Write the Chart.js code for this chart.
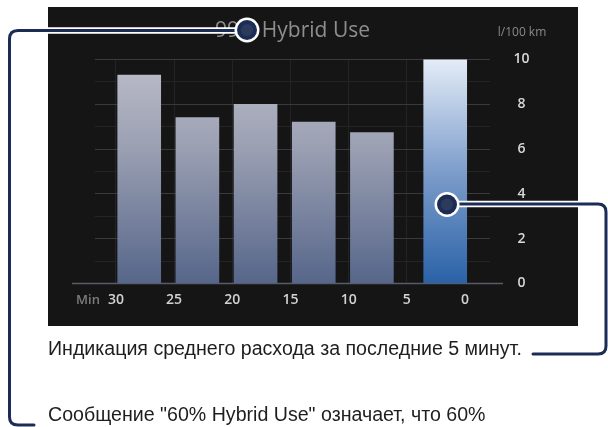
<!DOCTYPE html>
<html>
<head>
<meta charset="utf-8">
<script src="https://cdn.jsdelivr.net/npm/chart.js@4.4.1/dist/chart.umd.min.js"></script>
<style>
  html, body { margin: 0; padding: 0; background: #fff; }
  #page { position: relative; width: 608px; height: 427px; overflow: hidden; }
  #panel { position: absolute; left: 48px; top: 7px; width: 530px; height: 319px; background: #151515; }
  #chart { position: absolute; left: 0; top: 0; }
  #callouts { position: absolute; left: 0; top: 0; }
  .note { position: absolute; left: 48px; font: 19.6px "Liberation Sans", Arial, sans-serif; line-height: 19px; color: #1e1e1e; white-space: nowrap; }
</style>
</head>
<body>
<div id="page">
  <div id="panel"></div>
  <canvas id="chart" width="608" height="427"></canvas>
  <svg id="callouts" width="608" height="427">
    <g fill="none" stroke-linecap="round" stroke-linejoin="round">
      <path d="M 240 30.5 H 18 Q 9.5 30.5 9.5 39 V 417 Q 9.5 425 18 425 H 34" stroke="#fff" stroke-width="6.5"/>
      <path d="M 240 30.5 H 18 Q 9.5 30.5 9.5 39 V 417 Q 9.5 425 18 425 H 34" stroke="#1b2c55" stroke-width="3"/>
      <path d="M 452 204 H 598 Q 606 204 606 212 V 346 Q 606 354 598 354 H 533" stroke="#fff" stroke-width="6.5"/>
      <path d="M 452 204 H 598 Q 606 204 606 212 V 346 Q 606 354 598 354 H 533" stroke="#1b2c55" stroke-width="3"/>
    </g>
    <g>
      <circle cx="247" cy="30" r="12.5" fill="#fff"/>
      <circle cx="247" cy="30" r="10" fill="#1b2c55"/>
      <circle cx="247" cy="30" r="6" fill="#2c3a5c"/>
      <circle cx="447" cy="204.5" r="12.5" fill="#fff"/>
      <circle cx="447" cy="204.5" r="10" fill="#1b2c55"/>
      <circle cx="447" cy="204.5" r="6" fill="#2c3a5c"/>
    </g>
  </svg>
  <div class="note" style="top: 339px;">Индикация среднего расхода за последние 5 минут.</div>
  <div class="note" style="top: 405px;">Сообщение "60% Hybrid Use" означает, что 60%</div>
</div>
<script>
// данные графика
const barMinutes = [28, 23, 18, 13, 8, 1.7];          // положение столбца, минут назад
const consumption = [9.3, 7.4, 8.0, 7.2, 6.73, 10];    // л/100 км
const minuteTicks = [30, 25, 20, 15, 10, 5, 0];
const consumptionTicks = [0, 2, 4, 6, 8, 10];
const titleText = '99% Hybrid Use';
const unitText = 'l/100 km';
const minText = 'Min';

const CURRENT_INDEX = consumption.length - 1;

// градиенты столбцов по высоте области графика
function barFill(ctx) {
    const chart = ctx.chart;
    const area = chart.chartArea;
    const isCurrent = ctx.dataIndex === CURRENT_INDEX;
    if (!area) return isCurrent ? '#5d87c0' : '#8a90a6';
    const g = chart.ctx.createLinearGradient(0, area.bottom, 0, area.top);
    if (isCurrent) {
        g.addColorStop(0, '#2a62a7');
        g.addColorStop(0.5, '#7d9dcb');
        g.addColorStop(1, '#e4ecf7');
    } else {
        g.addColorStop(0, '#56668a');
        g.addColorStop(0.6, '#9a9fb2');
        g.addColorStop(1, '#bcbdc8');
    }
    return g;
}

// подписи "l/100 km", "Min" и нулевая линия
const extrasPlugin = {
    id: 'extras',
    beforeDatasetsDraw(chart) {
        const { ctx, scales: { x, y } } = chart;
        const y0 = y.getPixelForValue(0);
        ctx.save();
        ctx.strokeStyle = '#575c68';
        ctx.lineWidth = 1.5;
        ctx.beginPath();
        ctx.moveTo(x.left - 23, y0);
        ctx.lineTo(x.right + 13, y0);
        ctx.stroke();
        ctx.restore();
    },
    afterDraw(chart) {
        const { ctx, scales: { x, y } } = chart;
        ctx.save();
        ctx.fillStyle = '#8a8a8a';
        ctx.textAlign = 'center';
        ctx.textBaseline = 'middle';
        ctx.font = '12px "Open Sans"';
        ctx.fillText(unitText, y.left + 32, 33);
        ctx.fillStyle = '#7c7c7c';
        ctx.font = '600 13px "Open Sans"';
        ctx.textAlign = 'right';
        ctx.fillText(minText, x.getPixelForValue(30) - 16, 300);
        ctx.restore();
    }
};

new Chart(document.getElementById('chart'), {
    type: 'bar',
    data: {
        datasets: [{
            data: barMinutes.map((m, i) => ({ x: m, y: consumption[i] })),
            backgroundColor: barFill,
            borderWidth: 0,
            barThickness: 43
        }]
    },
    options: {
        responsive: false,
        animation: false,
        layout: { padding: { left: 95, right: 58, top: 7, bottom: 113.5 } },
        plugins: {
            legend: { display: false },
            tooltip: { enabled: false },
            title: {
                display: true,
                text: titleText,
                fullSize: false,
                color: '#8e8e8e',
                font: { family: 'Open Sans', size: 21, weight: 'normal' },
                padding: { top: 11.4, bottom: 15.8 }
            }
        },
        scales: {
            x: {
                type: 'linear',
                reverse: true,
                offset: false,
                min: -2.15,
                max: 31.8,
                afterBuildTicks: s => { s.ticks = minuteTicks.map(v => ({ value: v })); },
                afterFit: s => { s.height = 30; },
                grid: { color: '#222325', drawTicks: false, offset: false },
                border: { display: false },
                ticks: {
                    color: '#d2d2d2',
                    font: { family: 'Open Sans', size: 14, weight: '600' },
                    padding: 8,
                    maxRotation: 0,
                    callback: v => String(v)
                }
            },
            y: {
                position: 'right',
                min: 0,
                max: 10,
                afterFit: s => { s.width = 60; },
                grid: {
                    drawTicks: false,
                    color: c => (c.tick && consumptionTicks.includes(c.tick.value)) ? '#3a3a3c' : '#242426'
                },
                border: { display: false },
                ticks: {
                    stepSize: 1,
                    crossAlign: 'center',
                    padding: 23.5,
                    color: '#d8d8d8',
                    font: { family: 'Open Sans', size: 14, weight: '600' },
                    callback: v => consumptionTicks.includes(v) ? String(v) : ''
                }
            }
        }
    },
    plugins: [extrasPlugin]
});
</script>
</body>
</html>
